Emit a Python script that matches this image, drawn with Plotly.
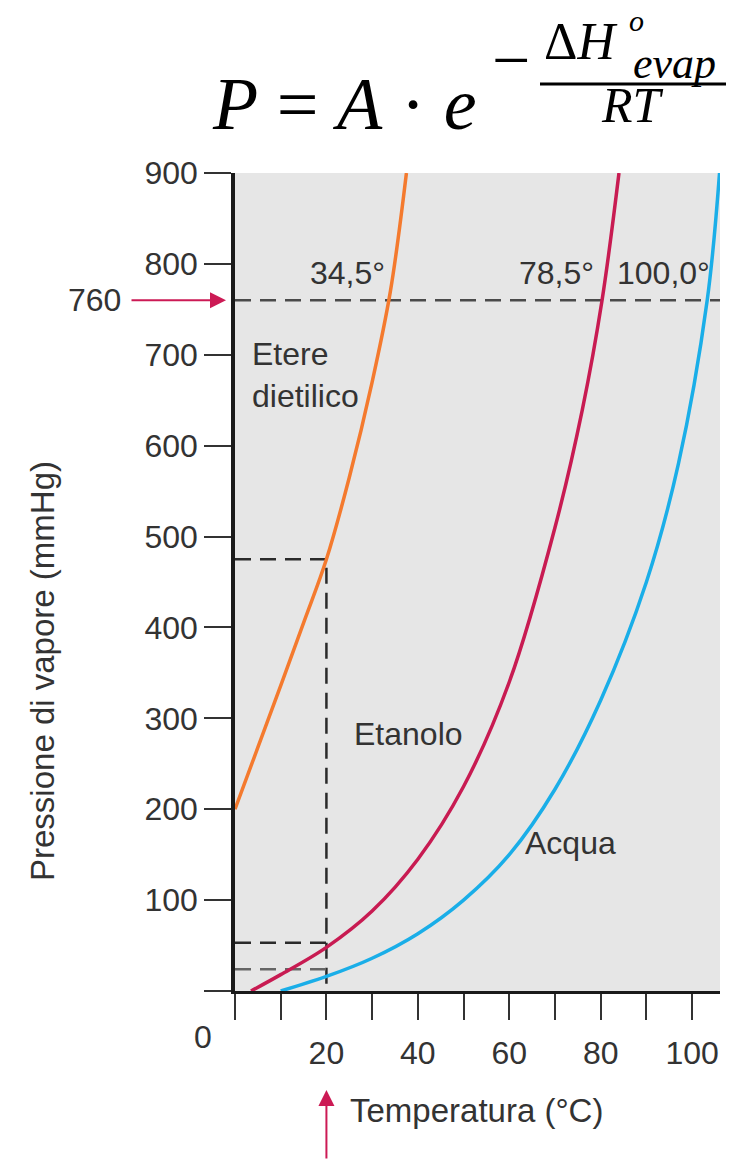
import plotly.graph_objects as go

# ---------------- data ----------------
ether_T = [0, 5, 10, 15, 20, 25, 30, 34, 37.5]
ether_P = [200, 268, 336, 405, 475, 565, 670, 770, 900]

ethanol_T = [3.5, 10, 20, 30, 40, 50, 60, 70, 76, 80.3, 84]
ethanol_P = [0, 18, 48, 88, 145, 225, 340, 510, 640, 760, 900]

water_T = [10, 20, 30, 40, 50, 60, 70, 80, 90, 97, 103.3, 106]
water_P = [0, 16, 36, 63, 100, 150, 222, 320, 450, 580, 760, 900]

x_tickvals = list(range(0, 101, 10))
x_ticktext = ["", "", "20", "", "40", "", "60", "", "80", "", "100"]
y_tickvals = list(range(0, 901, 100))
y_ticktext = ["", "100", "200", "300", "400", "500", "600", "700", "800", "900"]

atm_P = 760
ref_T = 20
ether_P20 = 475
ethanol_P20 = 53
water_P20 = 24

bp_labels = ["34,5°", "78,5°", "100,0°"]
bp_label_x = [24.6, 70.4, 93.8]

curve_names = ["Etere<br>dietilico", "Etanolo", "Acqua"]

# ---------------- layout constants ----------------
W, H = 731, 1160
L, R, T, B = 235, 11, 173, 169
PW = W - L - R
PH = H - T - B


def px(x):
    return (x - L) / PW


def py(y):
    return (H - B - y) / PH


TXT = "#333333"
FONT = "Liberation Sans, Arial, sans-serif"
SERIF = "Liberation Serif, Times New Roman, serif"
RED = "#cc1a55"

fig = go.Figure()

dash_main = "16px,9px"
fig.add_trace(go.Scatter(x=[0, 106.1], y=[atm_P, atm_P], mode="lines",
                         line=dict(color="#4a4a4a", width=2.5, dash=dash_main),
                         hoverinfo="skip", showlegend=False))
fig.add_trace(go.Scatter(x=[0, ref_T, ref_T], y=[ether_P20, ether_P20, 0], mode="lines",
                         line=dict(color="#2a2a2a", width=2.5, dash=dash_main),
                         hoverinfo="skip", showlegend=False))
fig.add_trace(go.Scatter(x=[0, ref_T], y=[ethanol_P20, ethanol_P20], mode="lines",
                         line=dict(color="#2a2a2a", width=2.5, dash=dash_main),
                         hoverinfo="skip", showlegend=False))
fig.add_trace(go.Scatter(x=[0, ref_T], y=[water_P20, water_P20], mode="lines",
                         line=dict(color="#666666", width=2.5, dash=dash_main),
                         hoverinfo="skip", showlegend=False))

fig.add_trace(go.Scatter(x=ether_T, y=ether_P, mode="lines", line_shape="spline",
                         line=dict(color="#f47a2e", width=3.5), showlegend=False))
fig.add_trace(go.Scatter(x=ethanol_T, y=ethanol_P, mode="lines", line_shape="spline",
                         line=dict(color="#c81b52", width=3.5), showlegend=False))
fig.add_trace(go.Scatter(x=water_T, y=water_P, mode="lines", line_shape="spline",
                         line=dict(color="#1aaee8", width=3.5), showlegend=False))

ann = []


def A(**kw):
    kw.setdefault("showarrow", False)
    kw.setdefault("xanchor", "center")
    kw.setdefault("yanchor", "middle")
    ann.append(kw)


for t, xv in zip(bp_labels, bp_label_x):
    A(x=xv, y=atm_P + 30, xref="x", yref="y", text=t,
      font=dict(family=FONT, size=32, color=TXT))
A(x=3.3, y=678, xref="x", yref="y", text=curve_names[0], xanchor="left", align="left",
  font=dict(family=FONT, size=32, color=TXT))
A(x=38, y=283, xref="x", yref="y", text=curve_names[1],
  font=dict(family=FONT, size=32, color=TXT))
A(x=73.5, y=163, xref="x", yref="y", text=curve_names[2],
  font=dict(family=FONT, size=32, color=TXT))

A(x=px(203), y=py(1037), xref="paper", yref="paper", text="0",
  font=dict(family=FONT, size=32, color=TXT))
A(x=px(42), y=py(671), xref="paper", yref="paper",
  text="Pressione di vapore (mmHg)", textangle=-90,
  font=dict(family=FONT, size=33, color=TXT))
A(x=px(348), y=py(1110), xref="paper", yref="paper", xanchor="left",
  text="Temperatura (°C)", font=dict(family=FONT, size=33, color=TXT))
A(x=px(94), y=atm_P, xref="paper", yref="y", text=str(atm_P),
  font=dict(family=FONT, size=32, color=TXT))

ann.append(dict(x=px(226), y=atm_P, xref="paper", yref="y", text="", showarrow=True,
                ax=-96, ay=0, arrowhead=2, arrowsize=1.6, arrowwidth=2, arrowcolor=RED))
ann.append(dict(x=ref_T, y=py(1090), xref="x", yref="paper", text="", showarrow=True,
                ax=0, ay=72, arrowhead=2, arrowsize=1.6, arrowwidth=2, arrowcolor=RED))

# formula
A(x=px(344), y=py(104), xref="paper", yref="paper",
  text="<i>P</i> = <i>A</i> · <i>e</i>", font=dict(family=SERIF, size=74, color="#000000"))
A(x=px(511), y=py(60), xref="paper", yref="paper", text="−",
  font=dict(family=SERIF, size=68, color="#000000"))
A(x=px(580), y=py(42), xref="paper", yref="paper", text="Δ<i>H</i>",
  font=dict(family=SERIF, size=52, color="#000000"))
A(x=px(636), y=py(20), xref="paper", yref="paper", text="<i>o</i>",
  font=dict(family=SERIF, size=30, color="#000000"))
A(x=px(674), y=py(63), xref="paper", yref="paper", text="<i>evap</i>",
  font=dict(family=SERIF, size=44, color="#000000"))
A(x=px(632), y=py(105), xref="paper", yref="paper", text="<i>RT</i>",
  font=dict(family=SERIF, size=50, color="#000000"))

shapes = [dict(type="line", xref="paper", yref="paper", x0=px(540), x1=px(726),
               y0=py(84), y1=py(84), line=dict(color="#000000", width=3))]

fig.update_layout(
    width=W, height=H,
    margin=dict(l=L, r=R, t=T, b=B, pad=0),
    paper_bgcolor="#ffffff",
    plot_bgcolor="#e6e6e6",
    showlegend=False,
    annotations=ann,
    shapes=shapes,
    xaxis=dict(range=[0, 106.1], tickvals=x_tickvals, ticktext=x_ticktext,
               ticks="outside", ticklen=26, tickwidth=2, tickcolor="#333333",
               showgrid=False, zeroline=False, showline=True, linecolor="#1a1a1a",
               linewidth=3, ticklabelstandoff=6,
               tickfont=dict(family=FONT, size=32, color=TXT), fixedrange=True),
    yaxis=dict(range=[0, 900], tickvals=y_tickvals, ticktext=y_ticktext,
               ticks="outside", ticklen=27, tickwidth=2, tickcolor="#333333",
               showgrid=False, zeroline=False, showline=True, linecolor="#1a1a1a",
               linewidth=3.5,
               tickfont=dict(family=FONT, size=32, color=TXT), fixedrange=True),
)

fig.write_html("out.html", config={"displayModeBar": False},
               post_script="document.body.style.margin='0';")
